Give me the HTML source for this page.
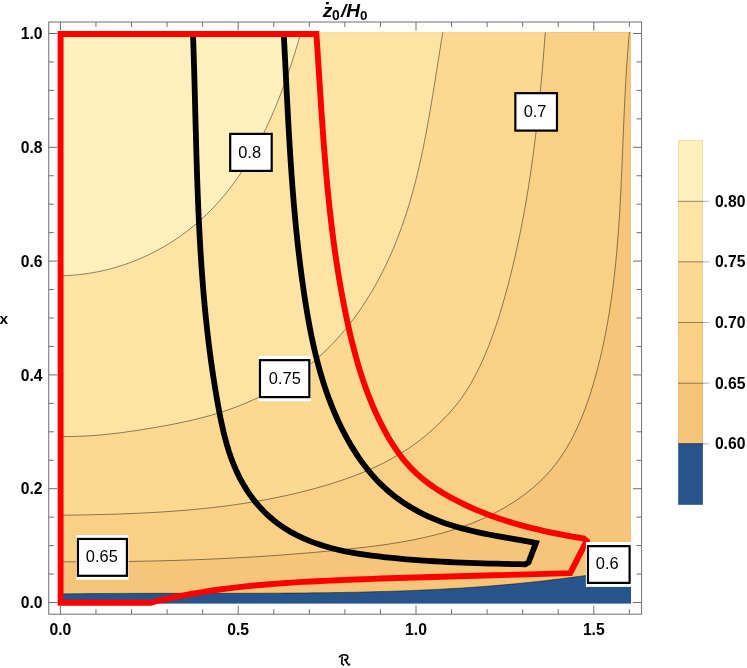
<!DOCTYPE html>
<html><head><meta charset="utf-8"><title>plot</title>
<style>
html,body{margin:0;padding:0;background:#fff;}
body{width:747px;height:668px;position:relative;overflow:hidden;font-family:"Liberation Sans",sans-serif;}
svg text{font-family:"Liberation Sans",sans-serif;}
</style></head><body>
<svg width="747" height="668" viewBox="0 0 747 668" style="position:absolute;left:0;top:0;will-change:transform">
<rect x="60.00" y="32.30" width="571.00" height="571.30" fill="#26548b"/>
<path d="M631.00 568.50 L623.84 569.69 L616.69 570.84 L609.52 571.97 L602.36 573.06 L595.19 574.13 L588.01 575.16 L580.84 576.15 L573.66 577.12 L566.47 578.05 L559.29 578.96 L552.10 579.82 L544.91 580.66 L537.71 581.47 L530.51 582.24 L523.31 582.98 L516.11 583.68 L508.90 584.36 L501.69 585.00 L494.48 585.61 L487.26 586.18 L480.04 586.73 L472.82 587.24 L465.60 587.73 L458.37 588.19 L451.15 588.62 L443.92 589.02 L436.69 589.40 L429.45 589.75 L422.22 590.08 L414.98 590.39 L407.74 590.68 L400.51 590.94 L393.27 591.19 L386.02 591.41 L378.78 591.62 L371.54 591.81 L364.29 591.99 L357.05 592.15 L349.80 592.29 L342.56 592.43 L335.31 592.55 L328.07 592.66 L320.82 592.75 L313.57 592.84 L306.33 592.92 L299.08 592.99 L291.83 593.05 L284.58 593.10 L277.34 593.14 L270.09 593.18 L262.84 593.21 L255.59 593.24 L248.35 593.26 L241.10 593.27 L233.85 593.28 L226.60 593.29 L219.35 593.30 L212.11 593.30 L204.86 593.30 L197.61 593.31 L190.37 593.31 L183.12 593.31 L175.87 593.31 L168.63 593.31 L161.38 593.31 L154.14 593.32 L146.89 593.33 L139.65 593.34 L132.41 593.36 L125.16 593.38 L117.92 593.41 L110.68 593.45 L103.44 593.49 L96.20 593.53 L88.95 593.59 L81.72 593.65 L74.48 593.73 L67.24 593.81 L60.00 593.90 L60.00 593.90 L60.00 32.30 L631.00 32.30 Z" fill="#f5c67a"/>
<path d="M629.40 32.30 L628.33 44.37 L627.39 56.47 L626.56 68.59 L625.81 80.73 L625.15 92.89 L624.55 105.05 L624.00 117.24 L623.48 129.43 L622.98 141.62 L622.48 153.83 L621.97 166.03 L621.43 178.24 L620.85 190.44 L620.22 202.63 L619.51 214.82 L618.71 227.00 L617.81 239.17 L616.79 251.32 L615.64 263.46 L614.34 275.58 L612.88 287.67 L611.24 299.74 L609.41 311.79 L607.37 323.80 L605.10 335.79 L602.60 347.74 L599.84 359.65 L596.82 371.53 L593.51 383.36 L589.88 395.12 L585.89 406.75 L581.47 418.18 L576.56 429.34 L571.11 440.17 L565.07 450.59 L558.38 460.55 L550.97 469.97 L542.81 478.79 L533.95 486.99 L524.49 494.58 L514.53 501.55 L504.16 507.92 L493.50 513.67 L482.57 518.85 L471.41 523.49 L460.03 527.63 L448.46 531.30 L436.72 534.56 L424.83 537.42 L412.83 539.95 L400.72 542.16 L388.54 544.11 L376.31 545.83 L364.04 547.36 L351.77 548.74 L339.51 550.00 L327.29 551.19 L315.10 552.30 L302.94 553.34 L290.80 554.31 L278.69 555.21 L266.60 556.05 L254.52 556.82 L242.46 557.53 L230.39 558.18 L218.34 558.77 L206.28 559.30 L194.21 559.78 L182.14 560.20 L170.05 560.57 L157.94 560.88 L145.82 561.15 L133.66 561.37 L121.48 561.54 L109.27 561.66 L97.02 561.75 L84.72 561.79 L72.39 561.79 L60.00 561.75 L60.00 561.75 L60.00 32.30 L629.40 32.30 Z" fill="#f9d085"/>
<path d="M545.30 32.30 L544.52 42.56 L543.71 52.82 L542.86 63.07 L541.98 73.32 L541.06 83.56 L540.09 93.79 L539.08 104.02 L538.01 114.24 L536.88 124.45 L535.69 134.64 L534.44 144.83 L533.11 155.01 L531.72 165.17 L530.24 175.33 L528.69 185.47 L527.05 195.59 L525.32 205.70 L523.49 215.80 L521.57 225.88 L519.55 235.94 L517.42 245.99 L515.19 256.02 L512.83 266.03 L510.37 276.02 L507.78 285.99 L505.06 295.95 L502.21 305.87 L499.22 315.77 L496.05 325.60 L492.67 335.34 L489.07 344.98 L485.21 354.47 L481.06 363.81 L476.60 372.96 L471.79 381.90 L466.60 390.59 L460.91 398.98 L454.63 407.00 L447.79 414.69 L440.54 422.10 L432.99 429.29 L425.16 436.10 L417.04 442.45 L408.65 448.37 L400.03 453.86 L391.18 458.97 L382.12 463.70 L372.89 468.09 L363.50 472.15 L353.97 475.92 L344.31 479.41 L334.56 482.66 L324.73 485.67 L314.85 488.48 L304.92 491.11 L294.94 493.55 L284.93 495.82 L274.87 497.93 L264.79 499.87 L254.67 501.66 L244.52 503.30 L234.34 504.79 L224.15 506.16 L213.93 507.40 L203.69 508.51 L193.44 509.52 L183.17 510.41 L172.90 511.21 L162.61 511.91 L152.33 512.53 L142.04 513.06 L131.75 513.52 L121.47 513.92 L111.19 514.25 L100.92 514.53 L90.67 514.76 L80.43 514.96 L70.20 515.12 L60.00 515.25 L60.00 515.25 L60.00 32.30 L545.30 32.30 Z" fill="#fcd991"/>
<path d="M442.80 32.30 L441.51 40.16 L440.24 48.03 L438.98 55.92 L437.73 63.81 L436.48 71.71 L435.23 79.62 L433.97 87.53 L432.68 95.44 L431.37 103.34 L430.03 111.24 L428.66 119.13 L427.23 127.01 L425.76 134.88 L424.22 142.74 L422.62 150.57 L420.95 158.39 L419.20 166.18 L417.36 173.95 L415.43 181.70 L413.40 189.41 L411.27 197.09 L409.02 204.74 L406.66 212.35 L404.16 219.92 L401.54 227.45 L398.78 234.93 L395.87 242.37 L392.81 249.76 L389.59 257.10 L386.21 264.37 L382.66 271.58 L378.96 278.71 L375.09 285.75 L371.05 292.69 L366.85 299.53 L362.47 306.25 L357.93 312.85 L353.21 319.32 L348.33 325.65 L343.26 331.82 L338.02 337.84 L332.60 343.69 L327.01 349.36 L321.23 354.85 L315.28 360.14 L309.16 365.25 L302.89 370.17 L296.46 374.89 L289.89 379.41 L283.19 383.73 L276.35 387.85 L269.39 391.76 L262.32 395.46 L255.13 398.96 L247.85 402.24 L240.47 405.31 L233.00 408.16 L225.45 410.79 L217.83 413.24 L210.15 415.50 L202.42 417.59 L194.63 419.53 L186.80 421.33 L178.95 423.01 L171.06 424.58 L163.17 426.05 L155.26 427.45 L147.35 428.77 L139.45 430.04 L131.54 431.24 L123.64 432.34 L115.73 433.35 L107.81 434.25 L99.88 435.02 L91.95 435.65 L83.99 436.12 L76.02 436.43 L68.02 436.56 L60.00 436.50 L60.00 436.50 L60.00 32.30 L442.80 32.30 Z" fill="#fde4a5"/>
<path d="M301.00 32.30 L299.73 36.69 L298.44 41.08 L297.12 45.50 L295.78 49.92 L294.40 54.35 L293.00 58.79 L291.56 63.23 L290.09 67.67 L288.59 72.12 L287.05 76.57 L285.48 81.01 L283.88 85.45 L282.23 89.88 L280.55 94.30 L278.83 98.71 L277.07 103.11 L275.27 107.50 L273.43 111.87 L271.54 116.22 L269.61 120.55 L267.64 124.86 L265.62 129.14 L263.55 133.40 L261.44 137.63 L259.27 141.84 L257.06 146.01 L254.79 150.14 L252.48 154.24 L250.11 158.31 L247.68 162.33 L245.21 166.32 L242.67 170.26 L240.08 174.15 L237.43 178.00 L234.72 181.80 L231.96 185.55 L229.13 189.25 L226.24 192.89 L223.29 196.48 L220.27 200.01 L217.19 203.47 L214.04 206.88 L210.83 210.22 L207.55 213.49 L204.20 216.70 L200.78 219.84 L197.30 222.90 L193.74 225.90 L190.13 228.82 L186.45 231.66 L182.71 234.43 L178.91 237.12 L175.05 239.74 L171.14 242.27 L167.17 244.72 L163.15 247.09 L159.08 249.37 L154.96 251.57 L150.79 253.68 L146.58 255.71 L142.32 257.64 L138.02 259.49 L133.68 261.24 L129.29 262.90 L124.88 264.46 L120.42 265.93 L115.93 267.31 L111.41 268.58 L106.86 269.76 L102.28 270.83 L97.67 271.80 L93.03 272.67 L88.37 273.44 L83.69 274.09 L78.99 274.65 L74.26 275.09 L69.52 275.42 L64.77 275.64 L60.00 275.75 L60.00 275.75 L60.00 32.30 L301.00 32.30 Z" fill="#fef0bd"/>
<path d="M301.00 32.30 L299.73 36.69 L298.44 41.08 L297.12 45.50 L295.78 49.92 L294.40 54.35 L293.00 58.79 L291.56 63.23 L290.09 67.67 L288.59 72.12 L287.05 76.57 L285.48 81.01 L283.88 85.45 L282.23 89.88 L280.55 94.30 L278.83 98.71 L277.07 103.11 L275.27 107.50 L273.43 111.87 L271.54 116.22 L269.61 120.55 L267.64 124.86 L265.62 129.14 L263.55 133.40 L261.44 137.63 L259.27 141.84 L257.06 146.01 L254.79 150.14 L252.48 154.24 L250.11 158.31 L247.68 162.33 L245.21 166.32 L242.67 170.26 L240.08 174.15 L237.43 178.00 L234.72 181.80 L231.96 185.55 L229.13 189.25 L226.24 192.89 L223.29 196.48 L220.27 200.01 L217.19 203.47 L214.04 206.88 L210.83 210.22 L207.55 213.49 L204.20 216.70 L200.78 219.84 L197.30 222.90 L193.74 225.90 L190.13 228.82 L186.45 231.66 L182.71 234.43 L178.91 237.12 L175.05 239.74 L171.14 242.27 L167.17 244.72 L163.15 247.09 L159.08 249.37 L154.96 251.57 L150.79 253.68 L146.58 255.71 L142.32 257.64 L138.02 259.49 L133.68 261.24 L129.29 262.90 L124.88 264.46 L120.42 265.93 L115.93 267.31 L111.41 268.58 L106.86 269.76 L102.28 270.83 L97.67 271.80 L93.03 272.67 L88.37 273.44 L83.69 274.09 L78.99 274.65 L74.26 275.09 L69.52 275.42 L64.77 275.64 L60.00 275.75" fill="none" stroke="#000" stroke-opacity="0.6" stroke-width="0.75"/>
<path d="M442.80 32.30 L441.51 40.16 L440.24 48.03 L438.98 55.92 L437.73 63.81 L436.48 71.71 L435.23 79.62 L433.97 87.53 L432.68 95.44 L431.37 103.34 L430.03 111.24 L428.66 119.13 L427.23 127.01 L425.76 134.88 L424.22 142.74 L422.62 150.57 L420.95 158.39 L419.20 166.18 L417.36 173.95 L415.43 181.70 L413.40 189.41 L411.27 197.09 L409.02 204.74 L406.66 212.35 L404.16 219.92 L401.54 227.45 L398.78 234.93 L395.87 242.37 L392.81 249.76 L389.59 257.10 L386.21 264.37 L382.66 271.58 L378.96 278.71 L375.09 285.75 L371.05 292.69 L366.85 299.53 L362.47 306.25 L357.93 312.85 L353.21 319.32 L348.33 325.65 L343.26 331.82 L338.02 337.84 L332.60 343.69 L327.01 349.36 L321.23 354.85 L315.28 360.14 L309.16 365.25 L302.89 370.17 L296.46 374.89 L289.89 379.41 L283.19 383.73 L276.35 387.85 L269.39 391.76 L262.32 395.46 L255.13 398.96 L247.85 402.24 L240.47 405.31 L233.00 408.16 L225.45 410.79 L217.83 413.24 L210.15 415.50 L202.42 417.59 L194.63 419.53 L186.80 421.33 L178.95 423.01 L171.06 424.58 L163.17 426.05 L155.26 427.45 L147.35 428.77 L139.45 430.04 L131.54 431.24 L123.64 432.34 L115.73 433.35 L107.81 434.25 L99.88 435.02 L91.95 435.65 L83.99 436.12 L76.02 436.43 L68.02 436.56 L60.00 436.50" fill="none" stroke="#000" stroke-opacity="0.6" stroke-width="0.75"/>
<path d="M545.30 32.30 L544.52 42.56 L543.71 52.82 L542.86 63.07 L541.98 73.32 L541.06 83.56 L540.09 93.79 L539.08 104.02 L538.01 114.24 L536.88 124.45 L535.69 134.64 L534.44 144.83 L533.11 155.01 L531.72 165.17 L530.24 175.33 L528.69 185.47 L527.05 195.59 L525.32 205.70 L523.49 215.80 L521.57 225.88 L519.55 235.94 L517.42 245.99 L515.19 256.02 L512.83 266.03 L510.37 276.02 L507.78 285.99 L505.06 295.95 L502.21 305.87 L499.22 315.77 L496.05 325.60 L492.67 335.34 L489.07 344.98 L485.21 354.47 L481.06 363.81 L476.60 372.96 L471.79 381.90 L466.60 390.59 L460.91 398.98 L454.63 407.00 L447.79 414.69 L440.54 422.10 L432.99 429.29 L425.16 436.10 L417.04 442.45 L408.65 448.37 L400.03 453.86 L391.18 458.97 L382.12 463.70 L372.89 468.09 L363.50 472.15 L353.97 475.92 L344.31 479.41 L334.56 482.66 L324.73 485.67 L314.85 488.48 L304.92 491.11 L294.94 493.55 L284.93 495.82 L274.87 497.93 L264.79 499.87 L254.67 501.66 L244.52 503.30 L234.34 504.79 L224.15 506.16 L213.93 507.40 L203.69 508.51 L193.44 509.52 L183.17 510.41 L172.90 511.21 L162.61 511.91 L152.33 512.53 L142.04 513.06 L131.75 513.52 L121.47 513.92 L111.19 514.25 L100.92 514.53 L90.67 514.76 L80.43 514.96 L70.20 515.12 L60.00 515.25" fill="none" stroke="#000" stroke-opacity="0.6" stroke-width="0.75"/>
<path d="M629.40 32.30 L628.33 44.37 L627.39 56.47 L626.56 68.59 L625.81 80.73 L625.15 92.89 L624.55 105.05 L624.00 117.24 L623.48 129.43 L622.98 141.62 L622.48 153.83 L621.97 166.03 L621.43 178.24 L620.85 190.44 L620.22 202.63 L619.51 214.82 L618.71 227.00 L617.81 239.17 L616.79 251.32 L615.64 263.46 L614.34 275.58 L612.88 287.67 L611.24 299.74 L609.41 311.79 L607.37 323.80 L605.10 335.79 L602.60 347.74 L599.84 359.65 L596.82 371.53 L593.51 383.36 L589.88 395.12 L585.89 406.75 L581.47 418.18 L576.56 429.34 L571.11 440.17 L565.07 450.59 L558.38 460.55 L550.97 469.97 L542.81 478.79 L533.95 486.99 L524.49 494.58 L514.53 501.55 L504.16 507.92 L493.50 513.67 L482.57 518.85 L471.41 523.49 L460.03 527.63 L448.46 531.30 L436.72 534.56 L424.83 537.42 L412.83 539.95 L400.72 542.16 L388.54 544.11 L376.31 545.83 L364.04 547.36 L351.77 548.74 L339.51 550.00 L327.29 551.19 L315.10 552.30 L302.94 553.34 L290.80 554.31 L278.69 555.21 L266.60 556.05 L254.52 556.82 L242.46 557.53 L230.39 558.18 L218.34 558.77 L206.28 559.30 L194.21 559.78 L182.14 560.20 L170.05 560.57 L157.94 560.88 L145.82 561.15 L133.66 561.37 L121.48 561.54 L109.27 561.66 L97.02 561.75 L84.72 561.79 L72.39 561.79 L60.00 561.75" fill="none" stroke="#000" stroke-opacity="0.6" stroke-width="0.75"/>
<path d="M631.00 568.50 L623.84 569.69 L616.69 570.84 L609.52 571.97 L602.36 573.06 L595.19 574.13 L588.01 575.16 L580.84 576.15 L573.66 577.12 L566.47 578.05 L559.29 578.96 L552.10 579.82 L544.91 580.66 L537.71 581.47 L530.51 582.24 L523.31 582.98 L516.11 583.68 L508.90 584.36 L501.69 585.00 L494.48 585.61 L487.26 586.18 L480.04 586.73 L472.82 587.24 L465.60 587.73 L458.37 588.19 L451.15 588.62 L443.92 589.02 L436.69 589.40 L429.45 589.75 L422.22 590.08 L414.98 590.39 L407.74 590.68 L400.51 590.94 L393.27 591.19 L386.02 591.41 L378.78 591.62 L371.54 591.81 L364.29 591.99 L357.05 592.15 L349.80 592.29 L342.56 592.43 L335.31 592.55 L328.07 592.66 L320.82 592.75 L313.57 592.84 L306.33 592.92 L299.08 592.99 L291.83 593.05 L284.58 593.10 L277.34 593.14 L270.09 593.18 L262.84 593.21 L255.59 593.24 L248.35 593.26 L241.10 593.27 L233.85 593.28 L226.60 593.29 L219.35 593.30 L212.11 593.30 L204.86 593.30 L197.61 593.31 L190.37 593.31 L183.12 593.31 L175.87 593.31 L168.63 593.31 L161.38 593.31 L154.14 593.32 L146.89 593.33 L139.65 593.34 L132.41 593.36 L125.16 593.38 L117.92 593.41 L110.68 593.45 L103.44 593.49 L96.20 593.53 L88.95 593.59 L81.72 593.65 L74.48 593.73 L67.24 593.81 L60.00 593.90" fill="none" stroke="#000" stroke-opacity="0.6" stroke-width="0.75"/>
<path d="M193.00 34.00 L193.25 41.03 L193.48 48.06 L193.71 55.08 L193.92 62.10 L194.13 69.12 L194.32 76.13 L194.52 83.14 L194.70 90.15 L194.89 97.15 L195.07 104.15 L195.25 111.15 L195.43 118.15 L195.61 125.15 L195.80 132.14 L195.99 139.13 L196.18 146.12 L196.38 153.10 L196.58 160.08 L196.80 167.07 L197.02 174.04 L197.26 181.02 L197.50 188.00 L197.77 194.97 L198.04 201.95 L198.33 208.92 L198.64 215.89 L198.97 222.85 L199.31 229.82 L199.68 236.79 L200.06 243.75 L200.48 250.72 L200.91 257.68 L201.37 264.64 L201.86 271.60 L202.37 278.56 L202.92 285.52 L203.49 292.48 L204.10 299.44 L204.74 306.40 L205.41 313.35 L206.12 320.31 L206.86 327.27 L207.64 334.23 L208.46 341.18 L209.32 348.14 L210.23 355.10 L211.17 362.06 L212.16 369.02 L213.19 375.97 L214.27 382.93 L215.39 389.89 L216.57 396.85 L217.79 403.82 L219.07 410.78 L220.42 417.72 L221.87 424.65 L223.43 431.53 L225.13 438.37 L227.00 445.14 L229.05 451.83 L231.31 458.43 L233.81 464.93 L236.55 471.31 L239.58 477.56 L242.89 483.67 L246.49 489.60 L250.38 495.35 L254.54 500.89 L258.99 506.20 L263.70 511.26 L268.68 516.04 L273.92 520.52 L279.42 524.70 L285.15 528.56 L291.10 532.13 L297.24 535.40 L303.54 538.40 L310.00 541.13 L316.58 543.60 L323.26 545.81 L330.02 547.79 L336.85 549.54 L343.74 551.08 L350.67 552.44 L357.63 553.64 L364.61 554.70 L371.61 555.64 L378.62 556.49 L385.62 557.27 L392.61 557.99 L399.59 558.66 L406.57 559.27 L413.53 559.83 L420.50 560.35 L427.45 560.83 L434.41 561.26 L441.36 561.65 L448.32 562.01 L455.27 562.33 L462.23 562.63 L469.19 562.89 L476.16 563.13 L483.14 563.34 L490.12 563.54 L497.11 563.72 L504.11 563.88 L511.13 564.03 L518.16 564.17 L525.20 564.30 L528.6 562.3 L536.00 542.90 L530.36 541.89 L524.67 540.89 L518.95 539.91 L513.19 538.93 L507.41 537.93 L501.61 536.91 L495.81 535.85 L490.00 534.74 L484.19 533.58 L478.40 532.35 L472.63 531.04 L466.88 529.64 L461.17 528.14 L455.50 526.52 L449.87 524.78 L444.31 522.90 L438.80 520.88 L433.37 518.70 L428.01 516.35 L422.74 513.84 L417.56 511.15 L412.48 508.30 L407.50 505.28 L402.64 502.09 L397.89 498.74 L393.27 495.22 L388.78 491.54 L384.44 487.69 L380.23 483.68 L376.18 479.50 L372.27 475.17 L368.51 470.70 L364.89 466.10 L361.41 461.39 L358.06 456.56 L354.84 451.64 L351.74 446.63 L348.77 441.55 L345.92 436.41 L343.18 431.21 L340.56 425.95 L338.04 420.64 L335.64 415.29 L333.34 409.89 L331.14 404.44 L329.04 398.96 L327.04 393.45 L325.13 387.90 L323.31 382.33 L321.58 376.73 L319.94 371.11 L318.38 365.47 L316.90 359.81 L315.49 354.13 L314.15 348.44 L312.88 342.73 L311.66 337.01 L310.51 331.28 L309.41 325.53 L308.36 319.78 L307.35 314.01 L306.38 308.24 L305.46 302.46 L304.56 296.68 L303.69 290.89 L302.86 285.10 L302.05 279.30 L301.27 273.50 L300.52 267.70 L299.79 261.89 L299.09 256.08 L298.41 250.26 L297.76 244.44 L297.14 238.62 L296.53 232.80 L295.95 226.97 L295.38 221.14 L294.84 215.30 L294.32 209.47 L293.81 203.63 L293.33 197.79 L292.86 191.94 L292.41 186.10 L291.97 180.25 L291.54 174.41 L291.14 168.56 L290.74 162.71 L290.36 156.85 L289.98 151.00 L289.62 145.15 L289.27 139.30 L288.93 133.44 L288.59 127.59 L288.27 121.73 L287.95 115.88 L287.64 110.02 L287.33 104.17 L287.02 98.31 L286.72 92.46 L286.43 86.61 L286.13 80.76 L285.84 74.91 L285.54 69.06 L285.25 63.21 L284.96 57.37 L284.66 51.52 L284.36 45.68 L284.06 39.84 L283.75 34.00 Z" fill="none" stroke="#000" stroke-width="5.8" stroke-linejoin="miter" stroke-miterlimit="10"/>
<path d="M60.6 34 L316.40 34.00 L316.79 39.87 L317.18 45.75 L317.57 51.62 L317.95 57.49 L318.32 63.37 L318.70 69.24 L319.08 75.11 L319.45 80.99 L319.83 86.86 L320.21 92.73 L320.60 98.60 L320.98 104.47 L321.38 110.34 L321.78 116.21 L322.18 122.07 L322.60 127.94 L323.02 133.80 L323.45 139.67 L323.90 145.53 L324.35 151.39 L324.82 157.24 L325.31 163.10 L325.80 168.95 L326.32 174.81 L326.85 180.66 L327.39 186.50 L327.96 192.35 L328.54 198.19 L329.15 204.03 L329.78 209.87 L330.43 215.70 L331.10 221.54 L331.79 227.37 L332.52 233.19 L333.26 239.01 L334.04 244.83 L334.84 250.65 L335.67 256.46 L336.53 262.27 L337.43 268.08 L338.35 273.88 L339.31 279.68 L340.30 285.47 L341.32 291.26 L342.38 297.05 L343.48 302.83 L344.62 308.60 L345.79 314.38 L347.00 320.14 L348.26 325.91 L349.56 331.66 L350.90 337.40 L352.30 343.13 L353.76 348.85 L355.28 354.55 L356.86 360.22 L358.50 365.88 L360.22 371.51 L362.01 377.11 L363.88 382.68 L365.84 388.22 L367.88 393.72 L370.00 399.19 L372.22 404.61 L374.54 410.00 L376.96 415.33 L379.48 420.63 L382.11 425.87 L384.85 431.06 L387.72 436.18 L390.71 441.22 L393.84 446.17 L397.12 451.01 L400.56 455.73 L404.16 460.31 L407.95 464.74 L411.92 469.00 L416.09 473.08 L420.44 476.98 L424.98 480.70 L429.66 484.26 L434.49 487.65 L439.44 490.89 L444.50 493.98 L449.65 496.93 L454.87 499.75 L460.15 502.45 L465.47 505.02 L470.83 507.49 L476.22 509.84 L481.66 512.08 L487.13 514.22 L492.63 516.26 L498.16 518.21 L503.72 520.06 L509.31 521.83 L514.92 523.51 L520.56 525.11 L526.23 526.64 L531.91 528.09 L537.62 529.47 L543.34 530.79 L549.08 532.04 L554.84 533.24 L560.61 534.39 L566.39 535.48 L572.19 536.53 L577.99 537.53 L583.80 538.50 L586.6 540.9 L570.20 573.10 L561.61 573.37 L553.01 573.64 L544.42 573.89 L535.82 574.14 L527.22 574.39 L518.62 574.62 L510.02 574.86 L501.42 575.09 L492.81 575.32 L484.21 575.55 L475.60 575.78 L466.99 576.01 L458.38 576.24 L449.77 576.47 L441.16 576.71 L432.55 576.95 L423.94 577.20 L415.33 577.46 L406.72 577.72 L398.11 577.99 L389.50 578.28 L380.89 578.57 L372.28 578.87 L363.67 579.19 L355.06 579.52 L346.45 579.87 L337.84 580.23 L329.23 580.61 L320.62 581.01 L312.02 581.44 L303.42 581.91 L294.83 582.42 L286.24 582.97 L277.65 583.58 L269.08 584.24 L260.51 584.97 L251.95 585.77 L243.40 586.64 L234.87 587.59 L226.34 588.63 L217.83 589.76 L209.33 590.99 L200.85 592.32 L192.38 593.76 L183.92 595.32 L175.49 596.99 L167.07 598.79 L158.68 600.73 L150.30 602.80 L60.6 602.8 Z" fill="none" stroke="#ff0000" stroke-width="5.9" stroke-linejoin="miter" stroke-miterlimit="10"/>
<rect x="230.20" y="133.90" width="41.50" height="37.00" fill="#fff" stroke="#000" stroke-width="2.20"/>
<text x="238.25" y="157.50" font-size="16.4" fill="#000">0.8</text>
<rect x="515.35" y="93.15" width="41.60" height="37.45" fill="#fff" stroke="#000" stroke-width="2.20"/>
<text x="523.65" y="116.75" font-size="16.4" fill="#000">0.7</text>
<rect x="258.50" y="356.00" width="52.55" height="45.20" fill="#fff"/>
<rect x="259.95" y="360.15" width="49.40" height="36.95" fill="#fff" stroke="#000" stroke-width="2.20"/>
<text x="268.85" y="383.75" font-size="16.4" fill="#000">0.75</text>
<rect x="76.35" y="535.00" width="52.10" height="44.70" fill="#fff"/>
<rect x="77.95" y="538.95" width="49.00" height="36.85" fill="#fff" stroke="#000" stroke-width="2.20"/>
<text x="85.85" y="561.95" font-size="16.4" fill="#000">0.65</text>
<rect x="585.85" y="542.00" width="45.15" height="44.90" fill="#fff"/>
<rect x="587.95" y="546.15" width="41.65" height="36.75" fill="#fff" stroke="#000" stroke-width="2.20"/>
<text x="595.85" y="569.15" font-size="16.4" fill="#000">0.6</text>
<rect x="48.75" y="22.00" width="592.85" height="592.20" fill="none" stroke="#6e6e6e" stroke-width="1"/>
<path d="M60.40 614.20v-8.60 M60.40 22.00v8.60 M95.96 614.20v-5.00 M95.96 22.00v5.00 M131.52 614.20v-5.00 M131.52 22.00v5.00 M167.08 614.20v-5.00 M167.08 22.00v5.00 M202.64 614.20v-5.00 M202.64 22.00v5.00 M238.20 614.20v-8.60 M238.20 22.00v8.60 M273.76 614.20v-5.00 M273.76 22.00v5.00 M309.32 614.20v-5.00 M309.32 22.00v5.00 M344.88 614.20v-5.00 M344.88 22.00v5.00 M380.44 614.20v-5.00 M380.44 22.00v5.00 M416.00 614.20v-8.60 M416.00 22.00v8.60 M451.56 614.20v-5.00 M451.56 22.00v5.00 M487.12 614.20v-5.00 M487.12 22.00v5.00 M522.68 614.20v-5.00 M522.68 22.00v5.00 M558.24 614.20v-5.00 M558.24 22.00v5.00 M593.80 614.20v-8.60 M593.80 22.00v8.60 M629.36 614.20v-5.00 M629.36 22.00v5.00 M48.75 602.50h8.60 M641.60 602.50h-8.60 M48.75 574.05h5.00 M641.60 574.05h-5.00 M48.75 545.60h5.00 M641.60 545.60h-5.00 M48.75 517.15h5.00 M641.60 517.15h-5.00 M48.75 488.70h8.60 M641.60 488.70h-8.60 M48.75 460.25h5.00 M641.60 460.25h-5.00 M48.75 431.80h5.00 M641.60 431.80h-5.00 M48.75 403.35h5.00 M641.60 403.35h-5.00 M48.75 374.90h8.60 M641.60 374.90h-8.60 M48.75 346.45h5.00 M641.60 346.45h-5.00 M48.75 318.00h5.00 M641.60 318.00h-5.00 M48.75 289.55h5.00 M641.60 289.55h-5.00 M48.75 261.10h8.60 M641.60 261.10h-8.60 M48.75 232.65h5.00 M641.60 232.65h-5.00 M48.75 204.20h5.00 M641.60 204.20h-5.00 M48.75 175.75h5.00 M641.60 175.75h-5.00 M48.75 147.30h8.60 M641.60 147.30h-8.60 M48.75 118.85h5.00 M641.60 118.85h-5.00 M48.75 90.40h5.00 M641.60 90.40h-5.00 M48.75 61.95h5.00 M641.60 61.95h-5.00 M48.75 33.50h8.60 M641.60 33.50h-8.60" stroke="#6e6e6e" stroke-width="1" fill="none"/>
<text x="60.40" y="635.0" font-size="15.7" font-weight="bold" text-anchor="middle">0.0</text>
<text x="238.20" y="635.0" font-size="15.7" font-weight="bold" text-anchor="middle">0.5</text>
<text x="416.00" y="635.0" font-size="15.7" font-weight="bold" text-anchor="middle">1.0</text>
<text x="593.80" y="635.0" font-size="15.7" font-weight="bold" text-anchor="middle">1.5</text>
<text x="42.6" y="608.10" font-size="15.7" font-weight="bold" text-anchor="end">0.0</text>
<text x="42.6" y="494.30" font-size="15.7" font-weight="bold" text-anchor="end">0.2</text>
<text x="42.6" y="380.50" font-size="15.7" font-weight="bold" text-anchor="end">0.4</text>
<text x="42.6" y="266.70" font-size="15.7" font-weight="bold" text-anchor="end">0.6</text>
<text x="42.6" y="152.90" font-size="15.7" font-weight="bold" text-anchor="end">0.8</text>
<text x="42.6" y="39.10" font-size="15.7" font-weight="bold" text-anchor="end">1.0</text>
<text x="-0.4" y="323.8" font-size="15.5" font-weight="bold">x</text>
<g fill="none" stroke="#000" stroke-width="1.6" stroke-linecap="round" stroke-linejoin="round"><path d="M339.3 657.0 C340.6 655.6 342.2 654.8 343.9 654.8 C346.2 654.8 347.8 655.7 347.8 657.3 C347.8 658.9 346.4 659.8 344.6 659.9"/><path d="M342.2 657.0 L341.7 663.6 L343.6 665.0"/><path d="M345.5 659.9 C346.2 661.8 347.3 663.8 348.6 665.0 L349.6 664.3"/></g>
<text x="322.7" y="16.9" font-size="19" font-weight="bold" font-style="italic">z</text>
<rect x="326.0" y="1.9" width="2.8" height="2.3" fill="#000" transform="skewX(-10)" transform-origin="327 3"/>
<text x="332.0" y="20.1" font-size="13.8" font-weight="bold">0</text>
<text x="341.0" y="16.9" font-size="19" font-weight="bold" font-style="italic">/</text>
<text x="346.3" y="16.9" font-size="19" font-weight="bold" font-style="italic">H</text>
<text x="359.9" y="20.1" font-size="13.4" font-weight="bold">0</text>
<rect x="678.50" y="140.50" width="24.20" height="60.80" fill="#fef0bd" stroke="#e6d39a" stroke-width="0.6"/>
<rect x="678.50" y="201.30" width="24.20" height="60.60" fill="#fde4a5" stroke="#e5c988" stroke-width="0.6"/>
<rect x="678.50" y="261.90" width="24.20" height="60.60" fill="#fcd991" stroke="#e3bf77" stroke-width="0.6"/>
<rect x="678.50" y="322.50" width="24.20" height="60.70" fill="#f9d085" stroke="#e0b66c" stroke-width="0.6"/>
<rect x="678.50" y="383.20" width="24.20" height="60.60" fill="#f5c67a" stroke="#dcab62" stroke-width="0.6"/>
<rect x="678.50" y="443.80" width="24.20" height="60.70" fill="#26548b" stroke="#26548b" stroke-width="0.6"/>
<path d="M678.20 201.30H705.00" stroke="#000" stroke-opacity="0.6" stroke-width="0.6"/>
<path d="M705.00 201.30H709.50" stroke="#999" stroke-width="0.7"/>
<text x="714.9" y="206.80" font-size="15.7" font-weight="bold">0.80</text>
<path d="M678.20 261.90H705.00" stroke="#000" stroke-opacity="0.6" stroke-width="0.6"/>
<path d="M705.00 261.90H709.50" stroke="#999" stroke-width="0.7"/>
<text x="714.9" y="267.40" font-size="15.7" font-weight="bold">0.75</text>
<path d="M678.20 322.50H705.00" stroke="#000" stroke-opacity="0.6" stroke-width="0.6"/>
<path d="M705.00 322.50H709.50" stroke="#999" stroke-width="0.7"/>
<text x="714.9" y="328.00" font-size="15.7" font-weight="bold">0.70</text>
<path d="M678.20 383.20H705.00" stroke="#000" stroke-opacity="0.6" stroke-width="0.6"/>
<path d="M705.00 383.20H709.50" stroke="#999" stroke-width="0.7"/>
<text x="714.9" y="388.70" font-size="15.7" font-weight="bold">0.65</text>
<path d="M678.20 443.80H705.00" stroke="#000" stroke-opacity="0.6" stroke-width="0.6"/>
<path d="M705.00 443.80H709.50" stroke="#999" stroke-width="0.7"/>
<text x="714.9" y="449.30" font-size="15.7" font-weight="bold">0.60</text>
</svg>
</body></html>
